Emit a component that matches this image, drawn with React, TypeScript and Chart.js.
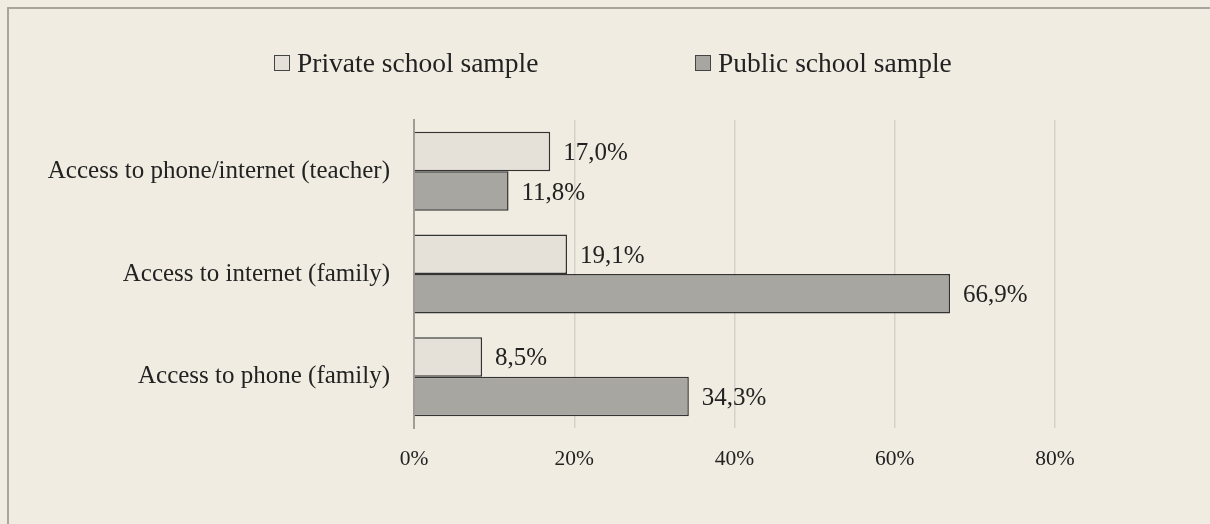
import React, { useEffect, useRef } from "react";
import { Chart, registerables } from "chart.js";

Chart.register(...registerables);

const categories = [
  "Access to phone/internet (teacher)",
  "Access to internet (family)",
  "Access to phone (family)",
];
const seriesNames = ["Private school sample", "Public school sample"];
const privateValues = [17.0, 19.1, 8.5];
const publicValues = [11.8, 66.9, 34.3];
const xTicks = [0, 20, 40, 60, 80];

const BG = "#f1ece1";
const PRIVATE_FILL = "#e5e1d8";
const PUBLIC_FILL = "#a7a6a1";
const BAR_BORDER = "#333333";
const TEXT = "#222222";
const FONT = "'Liberation Serif', serif";

const fmt = (v: number) => v.toFixed(1).replace(".", ",") + "%";

const valueLabels = {
  id: "valueLabels",
  afterDatasetsDraw(chart: any) {
    const ctx = chart.ctx;
    ctx.save();
    ctx.font = `25px ${FONT}`;
    ctx.fillStyle = TEXT;
    ctx.textAlign = "left";
    ctx.textBaseline = "middle";
    chart.data.datasets.forEach((ds: any, di: number) => {
      const meta = chart.getDatasetMeta(di);
      meta.data.forEach((bar: any, i: number) => {
        const v = ds.data[i] as number;
        ctx.fillText(fmt(v), bar.x + 13, bar.y + 2);
      });
    });
    ctx.restore();
  },
};

export default function App() {
  const ref = useRef<HTMLCanvasElement | null>(null);

  useEffect(() => {
    if (!ref.current) return;
    const chart = new Chart(ref.current, {
      type: "bar",
      data: {
        labels: categories,
        datasets: [
          {
            label: seriesNames[0],
            data: privateValues,
            backgroundColor: PRIVATE_FILL,
            borderColor: BAR_BORDER,
            borderWidth: 1.5,
            barPercentage: 1,
            categoryPercentage: 0.77,
          },
          {
            label: seriesNames[1],
            data: publicValues,
            backgroundColor: PUBLIC_FILL,
            borderColor: BAR_BORDER,
            borderWidth: 1.5,
            barPercentage: 1,
            categoryPercentage: 0.77,
          },
        ],
      },
      options: {
        indexAxis: "y",
        responsive: false,
        animation: false,
        layout: { padding: { top: 120, right: 155, bottom: 0, left: 0 } },
        plugins: {
          legend: { display: false },
          tooltip: { enabled: false },
        },
        scales: {
          x: {
            min: 0,
            max: 80,
            afterBuildTicks: (s: any) => {
              s.ticks = xTicks.map((v) => ({ value: v }));
            },
            afterFit: (s: any) => {
              s.height = 96;
            },
            grid: {
              color: "#d5d1c9",
              lineWidth: 1.5,
              drawTicks: false,
            },
            border: { display: false },
            ticks: {
              padding: 18,
              color: TEXT,
              font: { family: FONT, size: 21.5 },
              callback: (v: any) => v + "%",
            },
          },
          y: {
            afterFit: (s: any) => {
              s.width = 414;
            },
            grid: { display: false, drawTicks: false },
            border: { display: true, color: "#a09d97", width: 2 },
            ticks: {
              padding: 24,
              color: TEXT,
              font: { family: FONT, size: 25 },
            },
          },
        },
      },
      plugins: [valueLabels],
    });
    return () => chart.destroy();
  }, []);

  const legendItem = (left: number, fill: string, text: string) => (
    <div
      style={{
        position: "absolute",
        left,
        top: 47,
        height: 32,
        display: "flex",
        alignItems: "center",
        fontFamily: FONT,
        fontSize: 27.5,
        color: TEXT,
        whiteSpace: "nowrap",
      }}
    >
      <span
        style={{
          display: "inline-block",
          width: 14,
          height: 14,
          background: fill,
          border: "1px solid #444",
          marginRight: 7,
        }}
      />
      <span>{text}</span>
    </div>
  );

  return (
    <div
      style={{
        position: "fixed",
        left: 0,
        top: 0,
        width: 1210,
        height: 524,
        background: BG,
        overflow: "hidden",
      }}
    >
      <div
        style={{
          position: "absolute",
          left: 7,
          top: 7,
          width: 1230,
          height: 560,
          border: "2px solid #a9a59d",
          boxSizing: "border-box",
        }}
      />
      <canvas
        ref={ref}
        width={1210}
        height={524}
        style={{ position: "absolute", left: 0, top: 0 }}
      />
      {legendItem(274, PRIVATE_FILL, seriesNames[0])}
      {legendItem(695, PUBLIC_FILL, seriesNames[1])}
    </div>
  );
}
